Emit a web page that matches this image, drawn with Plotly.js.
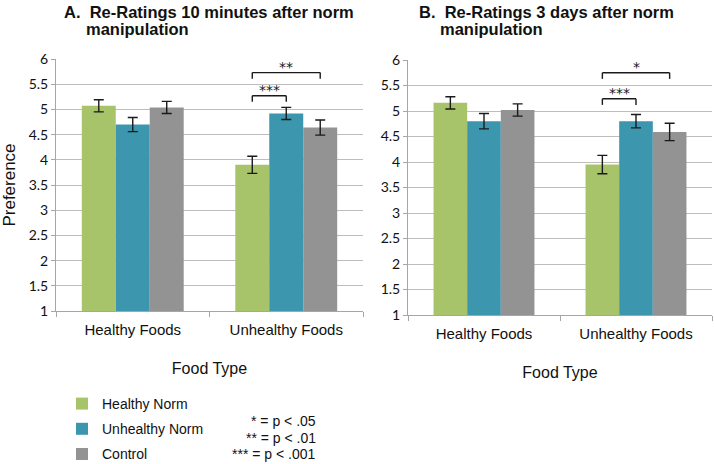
<!DOCTYPE html>
<html>
<head>
<meta charset="utf-8">
<script src="https://cdn.plot.ly/plotly-3.0.1.min.js"></script>
<style>html,body{margin:0;padding:0;background:#fff;}#chart{width:714px;height:464px;}</style>
</head>
<body>
<div id="chart"></div>
<script>
// ---- data ----
const categories = ['Healthy Foods', 'Unhealthy Foods'];
const seriesNames = ['Healthy Norm', 'Unhealthy Norm', 'Control'];
const seriesColors = ['#A8C46B', '#3C96AE', '#939393'];

// Panel A: re-ratings 10 minutes after norm manipulation
const panelA_healthyNorm   = [5.07, 3.90];
const panelA_unhealthyNorm = [4.70, 4.92];
const panelA_control       = [5.04, 4.64];
const panelA_err_healthyNorm   = [0.12, 0.17];
const panelA_err_unhealthyNorm = [0.14, 0.12];
const panelA_err_control       = [0.12, 0.15];

// Panel B: re-ratings 3 days after norm manipulation
const panelB_healthyNorm   = [5.16, 3.95];
const panelB_unhealthyNorm = [4.80, 4.80];
const panelB_control       = [5.02, 4.59];
const panelB_err_healthyNorm   = [0.12, 0.18];
const panelB_err_unhealthyNorm = [0.15, 0.13];
const panelB_err_control       = [0.12, 0.17];

const yTickVals = [1, 1.5, 2, 2.5, 3, 3.5, 4, 4.5, 5, 5.5, 6];
const yTickText = ['1', '1.5', '2', '2.5', '3', '3.5', '4', '4.5', '5', '5.5', '6'];

// significance comparisons within the "Unhealthy Foods" category
const sigA = [
  {cat: 1, from: 0, to: 2, label: '**',  top: 5.73, foot: 5.61},
  {cat: 1, from: 0, to: 1, label: '***', top: 5.27, foot: 5.15}
];
const sigB = [
  {cat: 1, from: 0, to: 2, label: '*',   top: 5.75, foot: 5.63},
  {cat: 1, from: 0, to: 1, label: '***', top: 5.24, foot: 5.12}
];
const pLegend = ['* = p < .05', '** = p < .01', '*** = p < .001'];

// ---- layout helpers ----
const W = 714, H = 464;
const mL = 56, mR = 2, mT = 59, mB = 149;
const PW = W - mL - mR, PH = H - mT - mB;
const px = x => (x - mL) / PW;
const py = y => (H - mB - y) / PH;

const bargap = 0.336;
const barW = (1 - bargap) / 3;
const barCenter = (cat, s) => cat + (s - 1) * barW;

const FONT = 'Liberation Sans, Arial, sans-serif';
const TICKFONT = 'Lato, Liberation Sans, sans-serif';

const panelA = [panelA_healthyNorm, panelA_unhealthyNorm, panelA_control];
const panelAErr = [panelA_err_healthyNorm, panelA_err_unhealthyNorm, panelA_err_control];
const panelB = [panelB_healthyNorm, panelB_unhealthyNorm, panelB_control];
const panelBErr = [panelB_err_healthyNorm, panelB_err_unhealthyNorm, panelB_err_control];

const traces = [];
function addPanel(vals, errs, xa, ya, showLegend) {
  vals.forEach((v, i) => {
    traces.push({
      type: 'bar', x: categories, y: v, name: seriesNames[i],
      xaxis: xa, yaxis: ya,
      legendgroup: 'g' + i, showlegend: showLegend,
      marker: {color: seriesColors[i], line: {width: 0}},
      error_y: {type: 'data', array: errs[i], visible: true, color: '#1a1a1a', thickness: 1.4, width: 5},
      hoverinfo: 'x+y+name'
    });
  });
}
addPanel(panelA, panelAErr, 'x', 'y', true);
addPanel(panelB, panelBErr, 'x2', 'y2', false);

const shapes = [];
const annotations = [];
function addSig(sigs, xref, yref) {
  sigs.forEach(s => {
    const x0 = barCenter(s.cat, s.from), x1 = barCenter(s.cat, s.to);
    const line = {color: '#1a1a1a', width: 1.4};
    shapes.push({type: 'line', xref, yref, x0: x0, x1: x0, y0: s.foot, y1: s.top, line});
    shapes.push({type: 'line', xref, yref, x0: x0, x1: x1, y0: s.top, y1: s.top, line});
    shapes.push({type: 'line', xref, yref, x0: x1, x1: x1, y0: s.top, y1: s.foot, line});
    annotations.push({xref, yref, x: (x0 + x1) / 2, y: s.top, text: s.label, showarrow: false,
      yanchor: 'bottom', yshift: -4, font: {family: 'DejaVu Sans, sans-serif', size: 14, color: '#1a1a1a'}});
  });
}
addSig(sigA, 'x', 'y');
addSig(sigB, 'x2', 'y2');

// titles
const titleFont = {family: FONT, size: 16.5, color: '#111', weight: 'bold'};
annotations.push({xref: 'paper', yref: 'paper', x: px(62), y: py(12), xanchor: 'left', yanchor: 'middle',
  text: '<b>A.  Re-Ratings 10 minutes after norm</b>', showarrow: false, font: titleFont});
annotations.push({xref: 'paper', yref: 'paper', x: px(84), y: py(29), xanchor: 'left', yanchor: 'middle',
  text: '<b>manipulation</b>', showarrow: false, font: titleFont});
annotations.push({xref: 'paper', yref: 'paper', x: px(417), y: py(12), xanchor: 'left', yanchor: 'middle',
  text: '<b>B.  Re-Ratings 3 days after norm</b>', showarrow: false, font: titleFont});
annotations.push({xref: 'paper', yref: 'paper', x: px(438), y: py(29), xanchor: 'left', yanchor: 'middle',
  text: '<b>manipulation</b>', showarrow: false, font: titleFont});

// p-value key
const pY = [421, 437.5, 454];
pLegend.forEach((t, i) => {
  annotations.push({xref: 'paper', yref: 'paper', x: px(318), y: py(pY[i]), xanchor: 'right', yanchor: 'middle',
    text: t, showarrow: false, font: {family: FONT, size: 14, color: '#111'}});
});

const gridColor = '#BDBDBD';
const axisColor = '#A6A6A6';
function yAxis(domain, anchor) {
  return {domain, anchor, range: [1, 6], tickvals: yTickVals, ticktext: yTickText,
    showgrid: true, gridcolor: gridColor, gridwidth: 1, zeroline: false,
    showline: true, linecolor: axisColor, linewidth: 1,
    ticks: 'outside', ticklen: 4, tickcolor: axisColor,
    tickfont: {family: TICKFONT, size: 14, color: '#111'}, fixedrange: true};
}
function xAxis(domain, anchor) {
  return {domain, anchor, type: 'category', range: [-0.5, 1.5],
    showline: true, linecolor: axisColor, linewidth: 1,
    ticks: 'outside', tickson: 'boundaries', ticklen: 5, tickcolor: axisColor,
    ticklabelstandoff: 5,
    tickfont: {family: FONT, size: 15, color: '#111'},
    title: {text: 'Food Type', font: {family: FONT, size: 16, color: '#111'}, standoff: 25},
    fixedrange: true};
}

const layout = {
  width: W, height: H,
  margin: {l: mL, r: mR, t: mT, b: mB, pad: 0, autoexpand: false},
  paper_bgcolor: '#fff', plot_bgcolor: '#fff',
  barmode: 'group', bargap: bargap, bargroupgap: 0,
  xaxis: xAxis([0, px(363)], 'y'),
  yaxis: Object.assign(yAxis([py(311), 1], 'x'),
    {title: {text: 'Preference', font: {family: FONT, size: 17, color: '#111'}, standoff: 10}}),
  xaxis2: xAxis([px(408), 1], 'y2'),
  yaxis2: yAxis([0, py(60)], 'x2'),
  showlegend: true,
  legend: {x: px(62), y: py(388), xanchor: 'left', yanchor: 'top', orientation: 'v',
    tracegroupgap: 4, font: {family: FONT, size: 14, color: '#111'}, bgcolor: 'rgba(0,0,0,0)'},
  shapes, annotations
};

Plotly.newPlot('chart', traces, layout, {displayModeBar: false, staticPlot: true});
</script>
</body>
</html>
